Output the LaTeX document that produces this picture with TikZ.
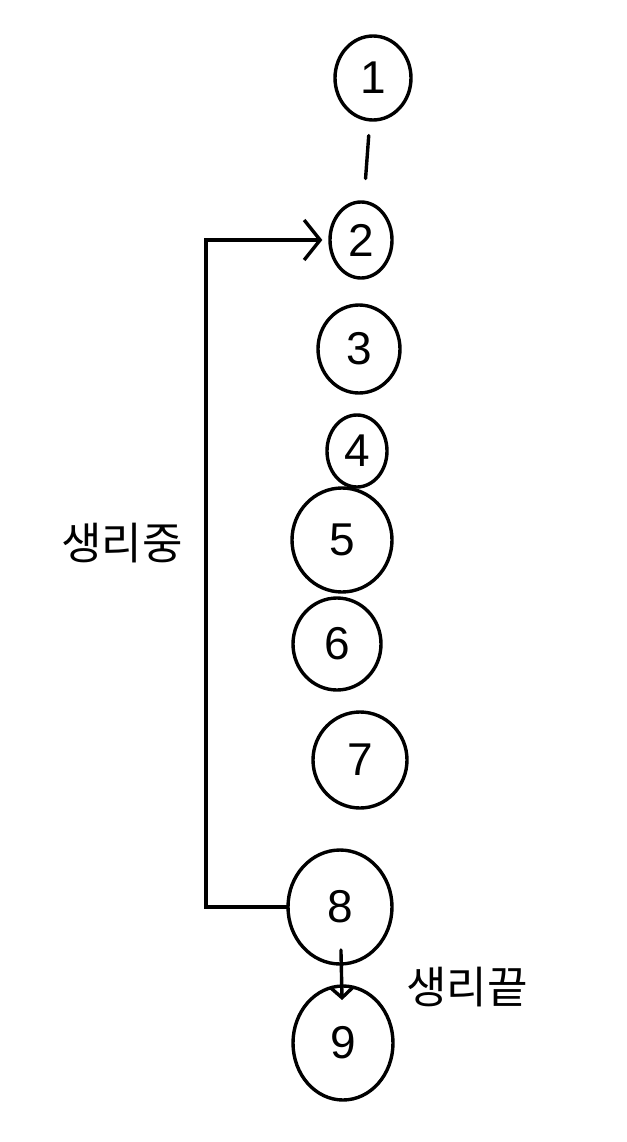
\documentclass[tikz,border=0pt]{standalone}
\usepackage{fontspec}
\setmainfont{Liberation Sans}
\newfontfamily\kr{Noto Sans CJK KR}
\usetikzlibrary{shapes.geometric,arrows.meta}
\tikzset{
  st/.style={ellipse, draw, line width=3.4pt, inner sep=0pt, font=\fontsize{46}{46}\selectfont},
  conn/.style={line width=3.4pt, line cap=round},
  lbl/.style={font=\kr\fontsize{44}{44}\selectfont, inner sep=0pt}
}
\begin{document}
\begin{tikzpicture}[x=1pt,y=-1pt]
\useasboundingbox (0,0) rectangle (626,1142);
\node[st, minimum width=76, minimum height=84] (n1) at (373,78) {1};
\node[st, minimum width=62, minimum height=76] (n2) at (361,240) {2};
\node[st, minimum width=82, minimum height=88] (n3) at (359,349) {3};
\node[st, minimum width=60, minimum height=72] (n4) at (357,451) {4};
\node[st, minimum width=100, minimum height=104] (n5) at (342,540) {5};
\node[st, minimum width=88, minimum height=92] (n6) at (337,644) {6};
\node[st, minimum width=94, minimum height=96] (n7) at (360,760) {7};
\node[st, minimum width=104, minimum height=114] (n8) at (340,907) {8};
\node[st, minimum width=100, minimum height=114] (n9) at (343,1043) {9};
\coordinate (lx) at (206,0);
\draw[conn, shorten <=14pt, shorten >=22pt] (n1) -- (n2);
\draw[conn, -{Straight Barb[length=16pt,width=40pt,line width=3.4pt]}, shorten >=6pt]
  (n8.west) -- (n8.west -| lx) -- (n2.west -| lx) -- (n2.west);
\draw[conn, -{Straight Barb[length=10pt,width=22pt,line width=3.4pt]}, shorten <=43pt, shorten >=43pt] (n8.center) -- (n9.center);
\node[lbl] (l1) at (122,543) {생리중};
\node[lbl] (l2) at (467,987) {생리끝};
\end{tikzpicture}
\end{document}
